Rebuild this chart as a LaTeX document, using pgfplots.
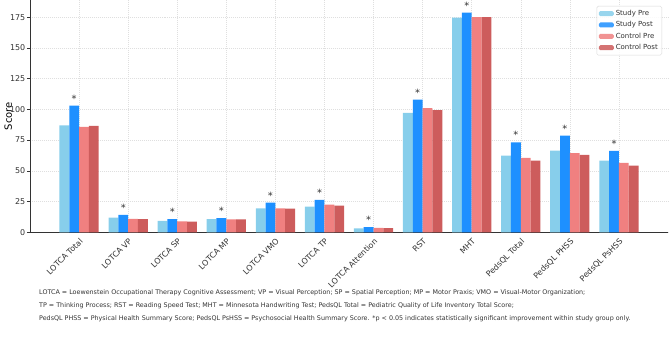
\documentclass[border=0pt]{standalone}
\usepackage{fontspec}
\setmainfont{DejaVu Sans}
\usepackage{pgfplots}
\usepackage{pgfplotstable}
\pgfplotsset{compat=1.18}

\definecolor{studypre}{HTML}{87CEEB}
\definecolor{studypost}{HTML}{1E90FF}
\definecolor{ctrlpre}{HTML}{F08080}
\definecolor{ctrlpost}{HTML}{CD5C5C}
\definecolor{spine}{HTML}{333333}

% Mean scores per outcome measure
\pgfplotstableread{
x  spre   spost  cpre   cpost
0  87.0   103.0  85.7   86.5
1  12.0   14.1   11.0   10.8
2  9.2    10.8   8.9    8.7
3  10.8   11.6   10.5   10.5
4  19.5   24.1   19.5   19.3
5  20.8   26.3   22.5   21.7
6  3.2    4.3    3.5    3.3
7  97.1   107.9  101.1  99.5
8  174.6  178.7  175.0  175.0
9  62.3   73.2   60.5   58.3
10 66.4   78.6   64.5   62.9
11 58.3   66.2   56.4   54.2
}\scores

\begin{document}
\begin{tikzpicture}
\useasboundingbox (-30bp,-111.7bp) rectangle (639bp,232.3bp);
\begin{axis}[
  scale only axis,
  width=638bp, height=232.3bp,
  xmin=-1, xmax=12,
  ymin=0, ymax=189,
  axis x line*=bottom, axis y line*=left,
  axis line style={spine, line width=0.7pt},
  ybar=0pt, bar width=0.2,
  xtick={0,...,11},
  xticklabels={LOTCA Total, LOTCA VP, LOTCA SP, LOTCA MP, LOTCA VMO, LOTCA TP,
    LOTCA Attention, RST, MHT, PedsQL Total, PedsQL PHSS, PedsQL PsHSS},
  ytick={0,25,...,175},
  tick align=outside,
  major tick length=3bp,
  tick style={spine, line width=0.6pt},
  xtick style={draw=none},
  /pgf/number format/assume math mode=true,
  tick label style={font=\fontsize{8}{9}\selectfont, text=spine},
  xticklabel style={rotate=45, anchor=north east, inner sep=1.5bp},
  yticklabel style={inner sep=1.5bp},
  grid=major,
  major grid style={gray!25, dash pattern=on 1pt off 1pt, line width=0.5pt},
  ylabel={Score},
  ylabel style={font=\fontsize{8}{9}\selectfont, text=spine},
  every axis y label/.style={at={(axis description cs:-0.034,0.5)}, rotate=90, anchor=center},
  legend style={at={(1,1)}, anchor=north east, xshift=-6bp, yshift=-6bp,
    draw=gray!30, rounded corners=1.5pt, fill=white, fill opacity=0.85, text opacity=1,
    font=\fontsize{7}{8}\selectfont, text=spine,
    row sep=0.6bp, inner sep=2bp},
  legend cell align=left,
  legend image code/.code={\fill[#1] (0bp,-2.5bp) rectangle (15bp,2.5bp);},
]
\addplot[fill=studypre, draw=none] table[x=x, y=spre] {\scores};
\addlegendentry{Study Pre}
\addplot[fill=studypost, draw=none,
  nodes near coords={*},
  every node near coord/.append style={anchor=base, inner sep=0pt, yshift=3.6bp,
    font=\fontsize{10}{10}\selectfont, text=spine}] table[x=x, y=spost] {\scores};
\addlegendentry{Study Post}
\addplot[fill=ctrlpre, draw=none] table[x=x, y=cpre] {\scores};
\addlegendentry{Control Pre}
\addplot[fill=ctrlpost, draw=none] table[x=x, y=cpost] {\scores};
\addlegendentry{Control Post}
\end{axis}
\node[anchor=north west, align=left, inner sep=0pt, text=spine,
  font=\fontsize{6.4}{13}\selectfont] at (9bp,-57bp)
  {LOTCA = Loewenstein Occupational Therapy Cognitive Assessment; VP = Visual Perception; SP = Spatial Perception; MP = Motor Praxis; VMO = Visual-Motor Organization;\\
   TP = Thinking Process; RST = Reading Speed Test; MHT = Minnesota Handwriting Test; PedsQL Total = Pediatric Quality of Life Inventory Total Score;\\
   PedsQL PHSS = Physical Health Summary Score; PedsQL PsHSS = Psychosocial Health Summary Score. *p < 0.05 indicates statistically significant improvement within study group only.};
\end{tikzpicture}
\end{document}
